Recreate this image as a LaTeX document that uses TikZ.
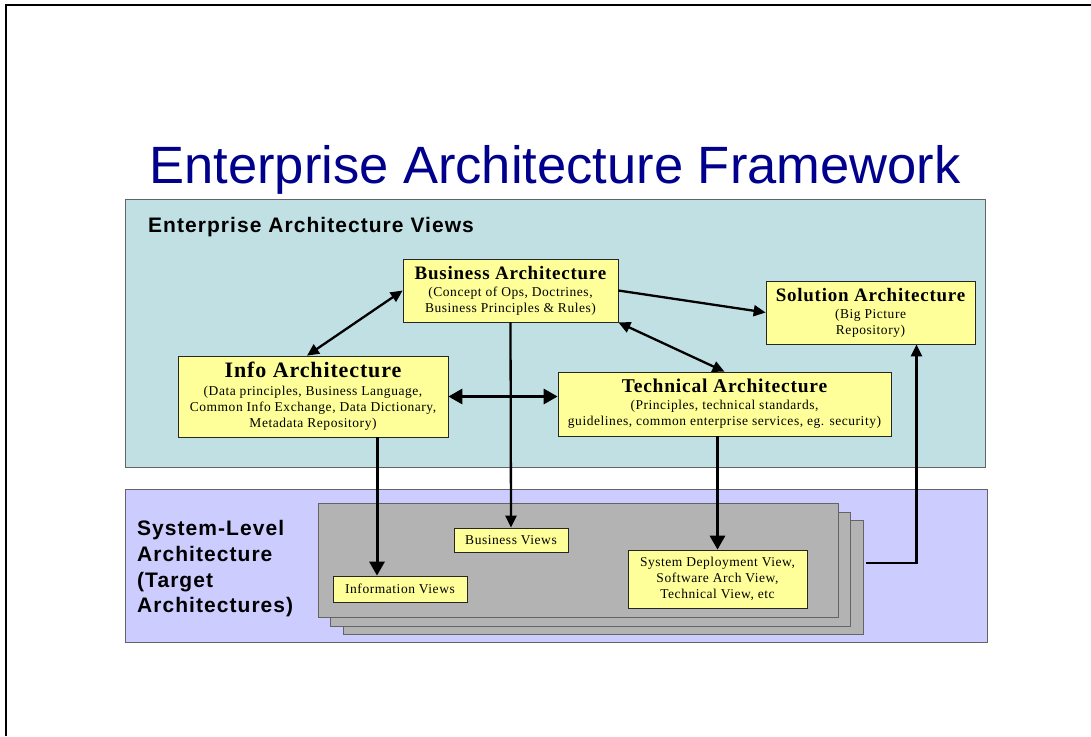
\documentclass[tikz,border=0pt]{standalone}
\usepackage{fontspec}
\setmainfont{Liberation Serif}[LetterSpace=4]
\newfontfamily\slidesans{Liberation Sans}
\newfontfamily\slidesanswide{Liberation Sans}[LetterSpace=5]
\usetikzlibrary{arrows.meta}
\definecolor{titleblue}{RGB}{0,0,140}
\definecolor{viewteal}{RGB}{192,224,228}
\definecolor{syslilac}{RGB}{204,204,255}
\definecolor{notebox}{RGB}{255,255,153}
\definecolor{sheetgray}{RGB}{179,179,179}
\definecolor{rimgray}{RGB}{100,100,100}

\begin{document}
\begin{tikzpicture}[x=1pt,y=-1pt,
  panel/.style={draw=rimgray,line width=0.9pt},
  sheet/.style={draw=rimgray,fill=sheetgray,line width=0.9pt,inner sep=0pt,
    minimum width=520pt,minimum height=114pt},
  note/.style={draw=black!85,fill=notebox,line width=0.7pt,align=center,inner sep=0pt,
    font=\fontsize{13.5}{16}\selectfont},
  link/.style={line width=2.3pt,>={Triangle[length=12pt,width=11pt]}},
  biglink/.style={line width=3pt,>={Triangle[length=14pt,width=15pt]}}]
\useasboundingbox (0,0) rectangle (1091,736);
\draw[line width=2pt] (6,736) -- (6,5) -- (1091,5);
\node[font=\slidesans\fontsize{52.5}{60}\selectfont,text=titleblue,inner sep=0pt,anchor=base]
  (title) at (555,183) {Enterprise Architecture Framework};

\draw[panel,fill=viewteal] (125,199) rectangle (985,467);
\draw[panel,fill=syslilac] (125,489) rectangle (987,642);
\node[anchor=west,inner sep=0pt,font=\slidesanswide\bfseries\fontsize{21}{24}\selectfont]
  (viewshead) at (148,227) {Enterprise Architecture Views};
\node[anchor=west,align=left,inner sep=0pt,font=\slidesanswide\bfseries\fontsize{21}{25.7}\selectfont]
  (syshead) at (137,569) {System-Level\\Architecture\\(Target\\Architectures)};

\node[sheet] (sheetC) at (603,577) {};
\node[sheet] (sheetB) at (590.5,569) {};
\node[sheet] (sheetA) at (578,560) {};

\node[note,minimum width=215pt,minimum height=63pt] (bus) at (510.5,290.5)
  {{\fontsize{19}{21}\selectfont\bfseries Business Architecture}\\[1pt]
   (Concept of Ops, Doctrines,\\Business Principles \& Rules)};
\node[note,minimum width=270pt,minimum height=81pt]
  (info) at (313,396.5)
  {{\fontsize{22}{24}\selectfont\bfseries Info Architecture}\\[2pt]
   (Data principles, Business Language,\\Common Info Exchange, Data Dictionary,\\
   Metadata Repository)};
\node[note,minimum width=209pt,minimum height=63pt] (sol) at (870.5,312.5)
  {{\fontsize{19}{21}\selectfont\bfseries Solution Architecture}\\[1pt]
   (Big Picture\\Repository)};
\node[note,minimum width=333pt,minimum height=64pt]
  (tech) at (724.5,404)
  {{\fontsize{19.5}{22}\selectfont\bfseries Technical Architecture}\\[1pt]
   (Principles, technical standards,\\guidelines, common enterprise services, eg. security)};

\node[note,minimum width=114pt,minimum height=24pt] (busv) at (511,540) {Business Views};
\node[note,minimum width=134pt,minimum height=26pt] (infov) at (400,589) {Information Views};
\node[note,minimum width=179pt,minimum height=58pt] (sysv) at (717.5,579)
  {System Deployment View,\\Software Arch View,\\Technical View, etc};

\draw[link,<->] ([xshift=-6pt]info.north) -- (bus.west);
\draw[link,->] (bus.east) -- (sol.west);
\draw[link,<->] (bus.south east) -- (tech.north);
\draw[biglink,<->] (info.east) -- (info.east -| tech.west);
\draw[link,->] (bus.south) -- (busv.north);
\draw[biglink,->] ([xshift=64pt]info.south) -- ([xshift=64pt]info.south |- infov.north);
\draw[biglink,->] (sysv.north |- tech.south) -- (sysv.north);
\coordinate (stackout) at ([xshift=3pt,yshift=14pt]sheetC.east);
\draw[link,->] (stackout) -| ([xshift=46pt]sol.south);
\end{tikzpicture}
\end{document}
